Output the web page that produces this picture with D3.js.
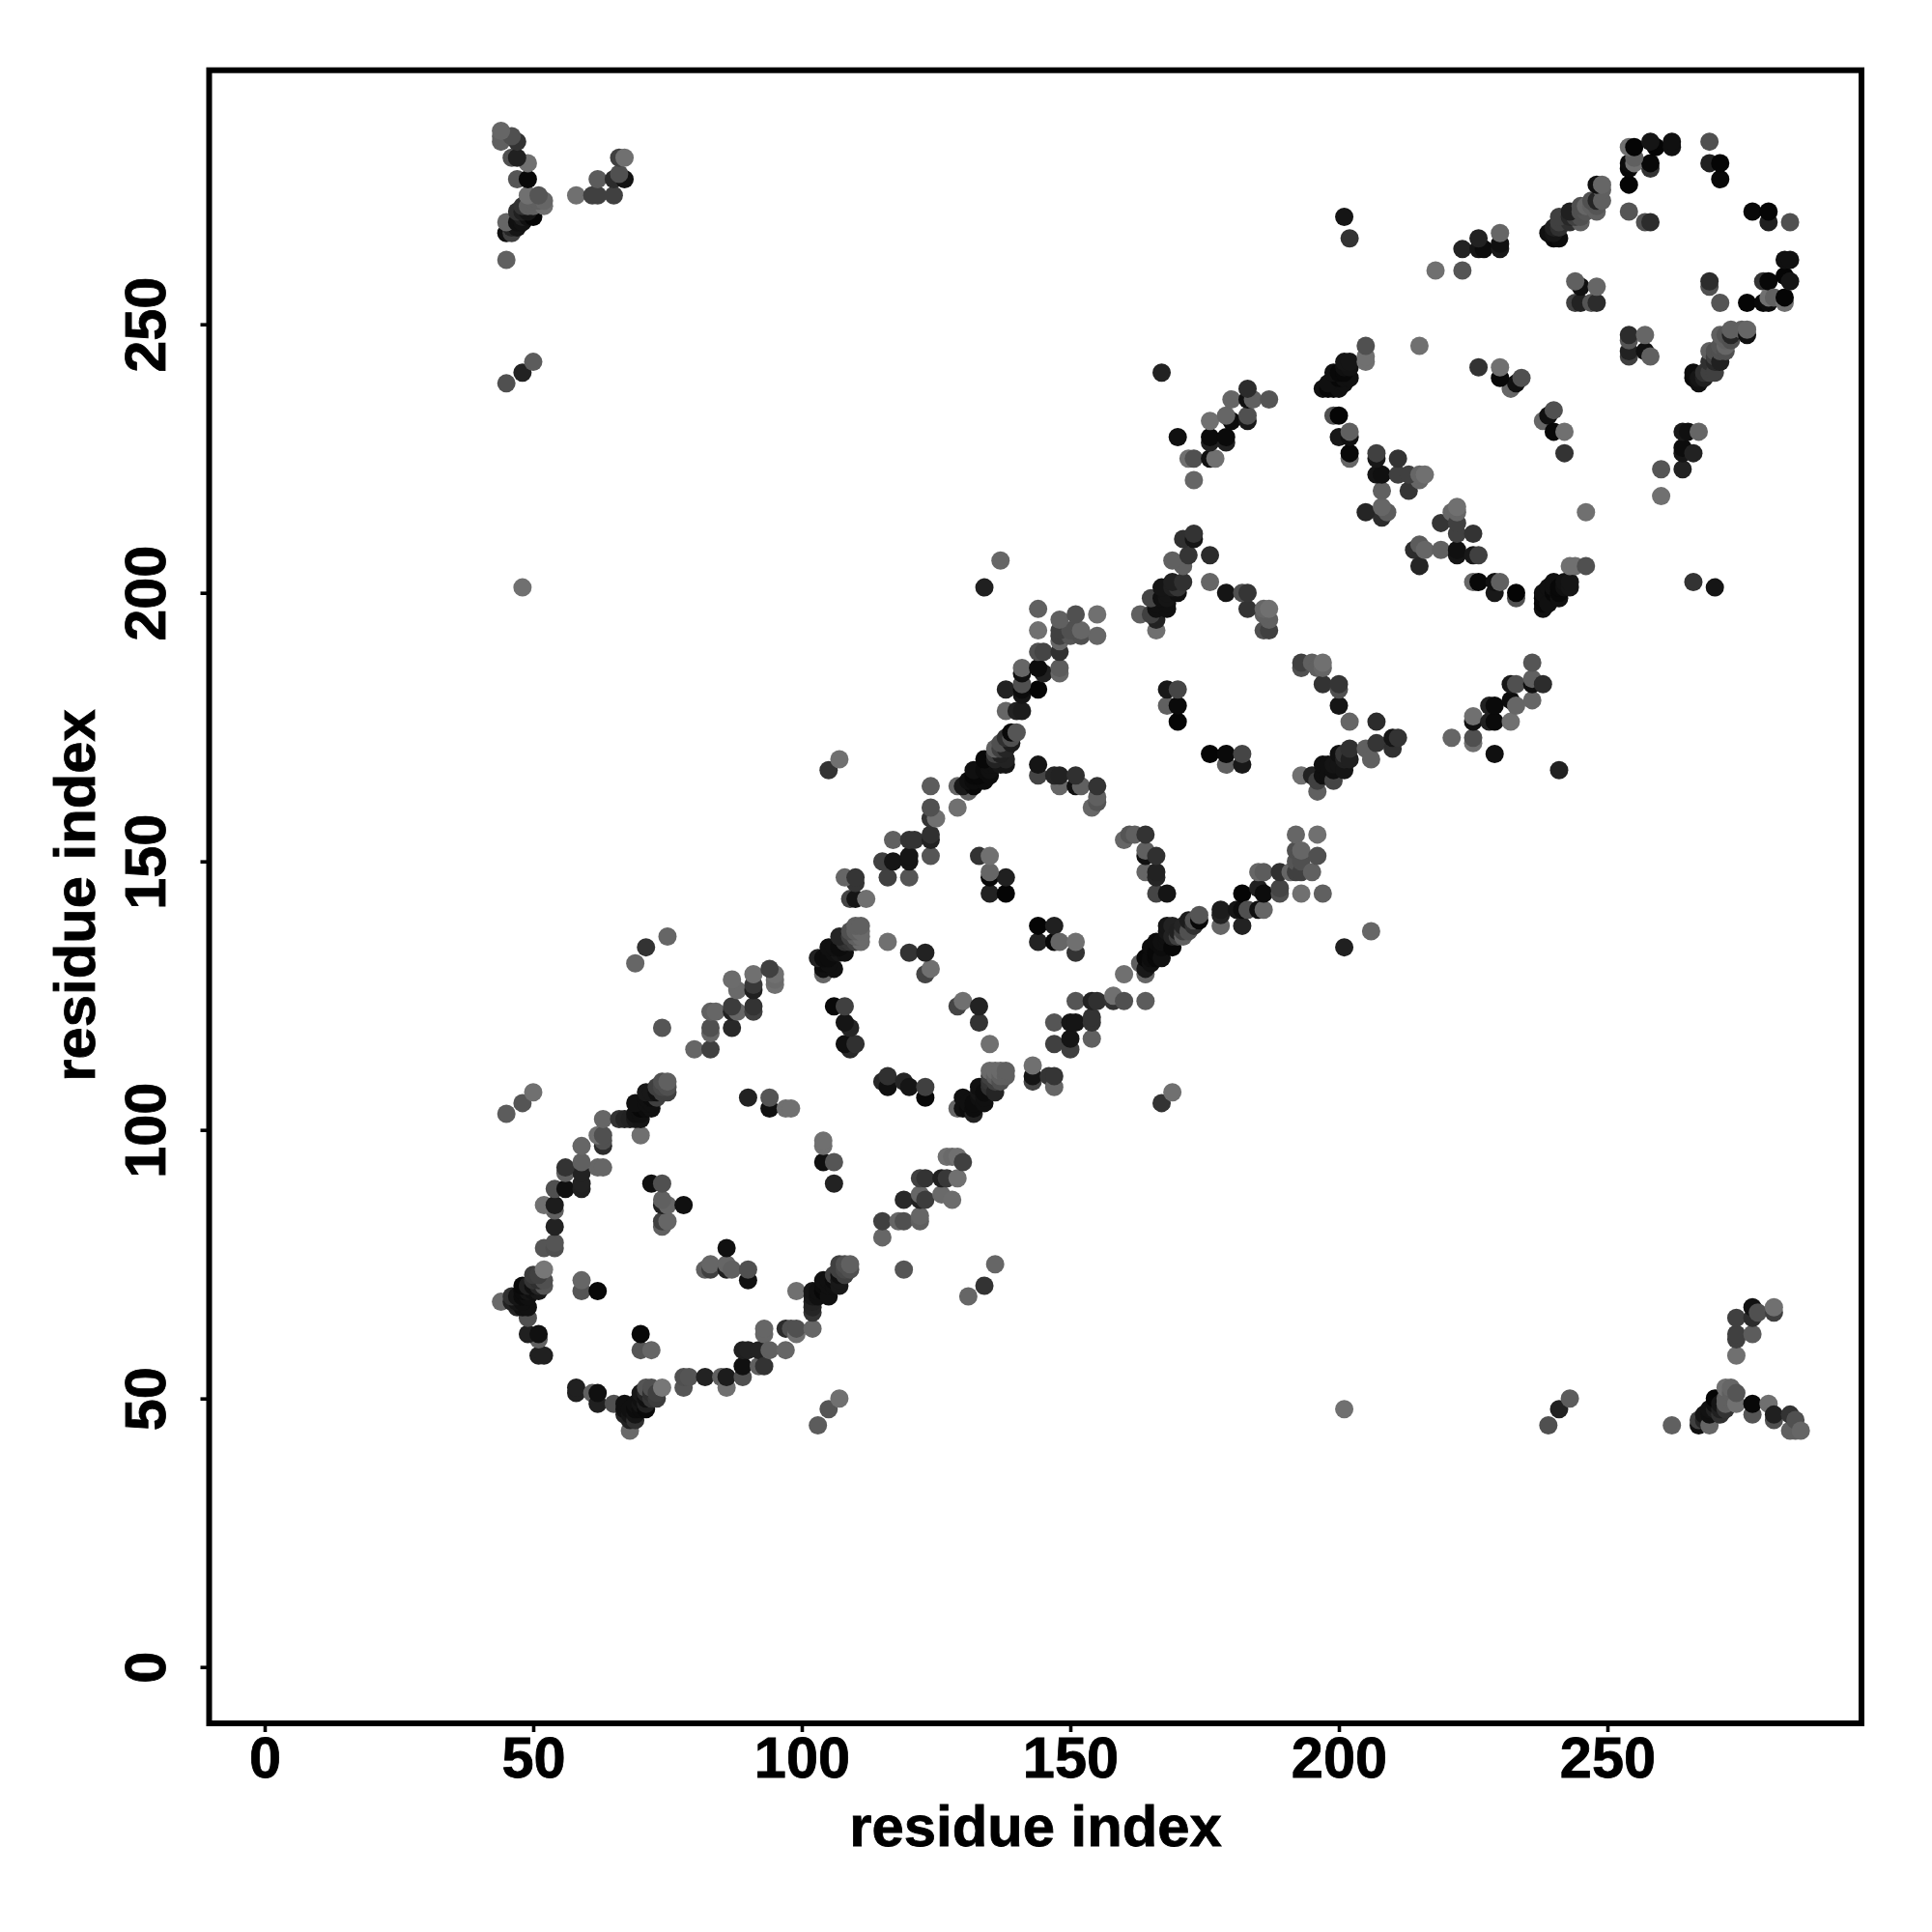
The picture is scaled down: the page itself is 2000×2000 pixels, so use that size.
<!DOCTYPE html>
<html><head><meta charset="utf-8">
<script src="https://cdn.jsdelivr.net/npm/d3@7"></script>
<style>html,body{margin:0;padding:0;background:#fff}svg{display:block}</style>
</head><body>
<svg id="c" width="2000" height="2000"></svg>
<script>
const xLabel = "residue index";
const yLabel = "residue index";
const tickValues = [0, 50, 100, 150, 200, 250];
const axisRange = [-10.34, 297.3];
const axisRangeY = [-10.49, 297.3];

// [residue i, residue j, grey shade]; the map is symmetric, each pair is drawn at (i,j) and (j,i)
const block1 = [
[58,52,0x20],[58,51,0x20],[61,51,0x60],[62,51,0x10],[62,49,0x20],[65,49,0x50],[67,49,0x10],[67,47,0x25],[67,48,0x10],
[68,48,0x10],[68,46,0x22],[68,44,0x6a],[68,47,0x15],[69,47,0x15],[69,46,0x30],[69,49,0x10],[69,48,0x0c],[70,51,0x18],[70,50,0x10],[70,48,0x0c],[70,49,0x15],
[70,62,0x08],[70,59,0x55],[71,52,0x55],[71,49,0x20],[71,48,0x0a],[71,50,0x10],[71,51,0x25],[72,51,0x30],[72,50,0x35],[72,52,0x50],[72,59,0x66],[73,50,0x3c],[73,51,0x40],
[74,52,0x77],[78,54,0x50],[78,52,0x55],[79,54,0x55],[82,54,0x22],[82,74,0x60],[83,74,0x40],[83,75,0x66],
[85,54,0x60],[86,54,0x1c],[86,52,0x70],[86,78,0x10],[86,75,0x66],[86,74,0x20],[87,74,0x60],[89,54,0x50],
[89,56,0x10],[89,59,0x20],[90,59,0x22],[90,74,0x50],[90,72,0x10],[92,56,0x60],[92,59,0x22],[93,56,0x33],
[93,63,0x66],[93,62,0x66],[94,59,0x60],[97,59,0x66],[97,63,0x2c],[98,63,0x50],[99,62,0x70],[99,63,0x50],
[99,70,0x70],[102,63,0x66],[102,66,0x33],[102,68,0x22],[102,70,0x15],[102,67,0x25],[102,69,0x18],[103,69,0x10],[103,70,0x10],[103,45,0x5c],[104,72,0x10],[104,70,0x08],[104,71,0x0c],
[104,94,0x10],[104,97,0x70],[104,98,0x70],[105,69,0x10],[105,71,0x10],[105,72,0x10],[105,48,0x55],[106,73,0x40],[106,71,0x10],[106,72,0x0c],[106,90,0x22],
[106,94,0x55],[107,71,0x18],[107,72,0x18],[107,73,0x10],[107,74,0x40],[107,75,0x40],[107,50,0x70],[108,73,0x40],[108,74,0x48],[108,75,0x50],[109,74,0x50],[109,75,0x60]
];
const block2 = [
[115,80,0x66],[115,83,0x40],[115,109,0x28],[116,108,0x10],[116,110,0x30],[118,83,0x66],[119,83,0x50],[119,87,0x28],
[119,74,0x55],[119,109,0x25],[120,108,0x15],[122,83,0x60],[122,84,0x66],[122,88,0x66],[122,91,0x40],[122,87,0x22],
[123,87,0x3c],[123,91,0x33],[123,108,0x40],[123,106,0x08],[126,88,0x6a],[126,91,0x20],[127,95,0x70],[127,91,0x38],
[128,95,0x6a],[128,87,0x6c],[129,91,0x70],[129,95,0x70],[129,104,0x66],[129,123,0x45],[130,94,0x40],[130,106,0x10],
[130,104,0x10],[130,124,0x70],[131,69,0x66],[131,104,0x0c],[131,105,0x10],[132,103,0x22],[132,104,0x0c],[132,105,0x0c],[133,108,0x10],[133,106,0x10],[133,107,0x15],[133,120,0x33],
[133,123,0x22],[134,105,0x10],[134,106,0x10],[134,107,0x0c],[134,71,0x33],[135,108,0x30],[135,109,0x35],[135,111,0x6a],[135,110,0x40],[135,116,0x70],[136,107,0x25],[136,109,0x40],
[136,110,0x60],[136,111,0x6a],[136,75,0x66],[137,109,0x50],[137,110,0x60],[137,111,0x6a],[138,110,0x60],[138,111,0x60]
];
const block3 = [
[143,112,0x70],[143,110,0x15],[143,109,0x45],[144,138,0x05],[144,135,0x22],[146,110,0x35],[147,108,0x66],[147,110,0x35],
[147,120,0x55],[147,116,0x40],[147,138,0x20],[147,135,0x08],[148,135,0x66],[150,117,0x15],[150,115,0x40],[150,120,0x15],
[151,120,0x15],[151,124,0x55],[151,135,0x70],[151,133,0x33],[154,120,0x33],[154,121,0x33],[154,117,0x60],[154,124,0x22],
[155,124,0x30],[158,125,0x70],[158,124,0x33],[160,124,0x50],[160,129,0x70],[160,154,0x66],[161,155,0x55],[162,155,0x60],
[163,131,0x60],[164,124,0x5c],[164,129,0x66],[164,130,0x18],[164,132,0x08],[164,155,0x33],[164,152,0x60],[164,151,0x10],
[164,148,0x66],[165,131,0x10],[165,132,0x0c],[165,134,0x0c],[166,132,0x08],[166,133,0x08],[166,135,0x0c],[166,151,0x30],[166,148,0x22],[166,147,0x25],[166,144,0x45],
[167,132,0x10],[167,134,0x0c],[167,135,0x10],[167,105,0x33],[168,135,0x10],[168,136,0x10],[168,137,0x15],[168,138,0x15],[168,144,0x15],[169,134,0x08],[169,138,0x22],[169,136,0x22],
[169,107,0x70],[170,136,0x40],[170,137,0x20],[171,136,0x60],[171,137,0x40],[171,138,0x25],[172,137,0x50],[172,139,0x1c],[173,138,0x30],[173,139,0x50],[174,139,0x08],[174,140,0x55]
];
const block4 = [
[176,170,0x05],[178,141,0x1c],[178,140,0x22],[178,138,0x66],[179,170,0x0a],[179,168,0x60],[181,141,0x15],[182,141,0x0c],
[182,138,0x22],[182,144,0x05],[182,170,0x45],[182,168,0x18],[183,141,0x50],[185,141,0x10],[185,145,0x20],[185,148,0x66],
[186,141,0x66],[186,144,0x0c],[186,148,0x5c],[189,145,0x45],[189,144,0x50],[189,148,0x30],[191,148,0x66],[192,148,0x40],
[192,155,0x66],[192,152,0x50],[192,150,0x55],[193,148,0x40],[193,144,0x70],[193,152,0x66],[193,150,0x50],[193,166,0x70],
[193,186,0x50],[193,187,0x40],[195,148,0x60],[195,166,0x22],[195,187,0x60],[196,155,0x70],[196,151,0x50],[196,163,0x60],
[196,165,0x40],[196,186,0x60],[197,166,0x10],[197,168,0x10],[197,183,0x33],[197,186,0x66],[197,187,0x70],[197,144,0x60],
[198,166,0x10],[198,168,0x10],[199,165,0x45],[199,167,0x10],[199,168,0x15],[200,168,0x15],[200,170,0x10],[200,183,0x35],[200,182,0x50],[200,179,0x15],[201,167,0x15],[201,169,0x20],[201,170,0x35],[201,134,0x20],
[201,48,0x70],[202,169,0x20],[202,171,0x30],[202,176,0x66],[205,171,0x60],[206,169,0x60],[206,137,0x66],[207,172,0x35],
[207,176,0x2c],[210,171,0x30],[210,173,0x15],[211,173,0x33]
];
const block5 = [
[214,208,0x2c],[215,205,0x25],[215,209,0x5c],[216,208,0x66],[219,208,0x60],[219,213,0x35],[221,173,0x66],[221,215,0x66],
[222,207,0x15],[222,208,0x10],[222,211,0x40],[222,213,0x40],[222,215,0x66],[222,216,0x70],[225,207,0x18],[225,211,0x33],
[225,202,0x66],[225,173,0x50],[225,172,0x70],[225,177,0x70],[225,176,0x10],[226,207,0x40],[226,202,0x08],[228,179,0x20],
[228,176,0x20],[229,179,0x0a],[229,176,0x0a],[229,170,0x10],[229,200,0x18],[229,202,0x10],[230,202,0x60],[232,176,0x70],
[232,180,0x0c],[232,183,0x18],[233,179,0x66],[233,183,0x50],[233,200,0x05],[233,199,0x50],[236,180,0x66],[236,187,0x55],
[236,184,0x60],[236,183,0x10],[238,183,0x2c],[238,197,0x10],[238,198,0x08],[238,199,0x08],[238,200,0x10],[238,232,0x66],[239,198,0x10],[239,201,0x10],
[239,233,0x10],[239,45,0x50],[240,200,0x08],[240,201,0x10],[240,202,0x10],[240,234,0x50],[240,230,0x08],[241,199,0x10],[241,200,0x08],[241,201,0x08],[241,167,0x22],
[241,48,0x22],[242,201,0x10],[242,202,0x12],[242,230,0x70],[242,226,0x33],[243,201,0x15],[243,202,0x15],[243,205,0x70],[243,50,0x5c],
[244,205,0x70],[246,205,0x50],[246,215,0x70]
];
const block6 = [
[254,248,0x2c],[254,247,0x55],[254,245,0x22],[254,244,0x40],[257,248,0x66],[257,245,0x10],[258,244,0x60],[260,223,0x55],
[260,218,0x70],[262,45,0x60],[264,223,0x22],[264,230,0x18],[264,227,0x0c],[264,226,0x15],[265,230,0x10],[266,226,0x22],
[266,202,0x33],[266,241,0x0c],[266,240,0x08],[267,230,0x66],[267,239,0x10],[267,240,0x15],[267,45,0x10],[267,46,0x40],
[268,240,0x20],[268,241,0x30],[268,47,0x15],[268,46,0x25],[269,241,0x40],[269,243,0x30],[269,47,0x10],
[269,258,0x2c],[269,257,0x50],[269,245,0x60],[269,45,0x66],[269,48,0x12],[270,241,0x40],[270,243,0x28],[270,244,0x40],[270,245,0x50],[270,201,0x15],
[270,49,0x10],[270,50,0x05],[270,48,0x20],[271,254,0x55],[271,248,0x60],[271,243,0x20],[271,245,0x50],[271,246,0x55],[271,47,0x30],[271,48,0x20],[271,49,0x15],[272,245,0x50],[272,246,0x66],[272,247,0x60],[272,248,0x55],
[272,48,0x33],[272,49,0x60],[272,50,0x60],[272,52,0x70],[273,247,0x50],[273,248,0x25],[273,249,0x60],[273,50,0x60],[273,51,0x60],[273,52,0x66],[274,51,0x55],[274,49,0x70],[274,58,0x70],
[274,61,0x40],[274,62,0x40],[274,65,0x40],[275,249,0x60],[276,248,0x10],[276,249,0x66],[276,254,0x05],[277,271,0x08],
[277,49,0x08],[277,47,0x55],[277,62,0x5c],[277,67,0x12],[277,65,0x2c],[278,66,0x50],[279,258,0x33],[279,254,0x08],
[280,258,0x08],[280,271,0x05],[280,269,0x20],[280,255,0x70],[280,254,0x0c],[280,49,0x70],[281,255,0x60],[281,47,0x20],
[281,46,0x50],[281,67,0x70],[281,66,0x40],[283,255,0x05],[283,254,0x70],[283,259,0x05],[283,262,0x10],[284,258,0x15],
[284,262,0x10],[284,269,0x50],[284,47,0x33],[284,44,0x60],[285,46,0x50],[285,44,0x60],[286,44,0x66]
];

const FONT = "'Liberation Sans', Arial, sans-serif";
const svg = d3.select("#c");
const frame = {left: 216.5, right: 1927, top: 72.7, bottom: 1784};
const x = d3.scaleLinear().domain(axisRange).range([frame.left, frame.right]);
const y = d3.scaleLinear().domain(axisRangeY).range([frame.bottom, frame.top]);

const pairs = [...block1, ...block2, ...block3, ...block4, ...block5, ...block6]
  .sort((a, b) => d3.ascending(a[0], b[0]) || d3.ascending(a[1], b[1]));
const points = pairs.flatMap(([i, j, s]) => [{a: i, b: j, s}, {a: j, b: i, s}]);

svg.append("g").selectAll("circle").data(points).join("circle")
  .attr("cx", d => x(d.a)).attr("cy", d => y(d.b)).attr("r", 9.5)
  .attr("fill", d => `rgb(${d.s},${d.s},${d.s})`);

const xAxis = d3.axisBottom(x).tickValues(tickValues).tickFormat(d3.format("d")).tickSize(9).tickPadding(0);
const yAxis = d3.axisLeft(y).tickValues(tickValues).tickFormat(d3.format("d")).tickSize(9).tickPadding(0);

const gx = svg.append("g").attr("transform", `translate(0,${frame.bottom})`).call(xAxis);
const gy = svg.append("g").attr("transform", `translate(${frame.left},0)`).call(yAxis);
[gx, gy].forEach(g => {
  g.select(".domain").remove();
  g.selectAll(".tick line").attr("stroke", "#000").attr("stroke-width", 3.6);
  g.selectAll(".tick text").attr("fill", "#000").attr("font-family", FONT)
    .attr("font-weight", "bold").attr("font-size", 59.5)
    .attr("stroke", "#000").attr("stroke-width", 0.8);
});
gx.selectAll(".tick text").attr("dy", null).attr("y", 56);
gy.selectAll(".tick text").attr("dy", null).attr("x", null).attr("y", null)
  .attr("text-anchor", "middle").attr("transform", "translate(-45.5,0) rotate(-90)");

svg.append("rect").attr("x", frame.left).attr("y", frame.top)
  .attr("width", frame.right - frame.left).attr("height", frame.bottom - frame.top)
  .attr("fill", "none").attr("stroke", "#000").attr("stroke-width", 6);

svg.append("text").attr("x", 1072).attr("y", 1911).attr("text-anchor", "middle")
  .attr("font-family", FONT).attr("font-weight", "bold").attr("font-size", 59.8)
  .attr("stroke", "#000").attr("stroke-width", 0.8).text(xLabel);
svg.append("text").attr("transform", "translate(98,927) rotate(-90)").attr("text-anchor", "middle")
  .attr("font-family", FONT).attr("font-weight", "bold").attr("font-size", 59.8)
  .attr("stroke", "#000").attr("stroke-width", 0.8).text(yLabel);
</script>
</body></html>
